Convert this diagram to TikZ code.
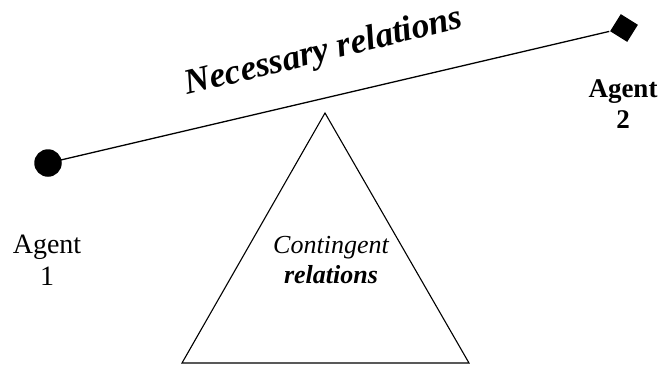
\documentclass[tikz,border=0pt]{standalone}
\usepackage{fontspec}
\setmainfont{Liberation Serif}
\usetikzlibrary{shapes.geometric}

\begin{document}
\begin{tikzpicture}[x=1pt,y=-1pt,line width=1.3pt,
  agentlabel/.style={align=center,inner sep=0pt,anchor=north},
  relationlabel/.style={inner sep=0pt,anchor=base}]
  \useasboundingbox (0,0) rectangle (658,367);
  %agents
  \node[circle,fill,inner sep=0pt,minimum size=27.5pt] (dot) at (48,163) {};
  \node[diamond,fill,inner sep=0pt,aspect=1,minimum size=29pt,rotate=13] (diam) at (624,28) {};
  \draw (dot.center) -- (diam.west);
  \node[agentlabel,font=\fontsize{28}{32}\selectfont] (agent1) at (47,234) {Agent\\1};
  \node[agentlabel,font=\fontsize{27}{31}\selectfont\bfseries] (agent2) at (623,79) {Agent\\2};
  %top
  \node[relationlabel,rotate=13.8,font=\fontsize{35.5}{40}\selectfont\bfseries\itshape] (necessary) at (326,61) {Necessary relations};
  %bottom
  \coordinate (apex) at (325,113);
  \coordinate (baseleft) at (182,363);
  \coordinate (baseright) at (469,363);
  \draw[line width=1.1pt,line join=miter] (apex) -- (baseleft) -- (baseright) -- cycle;
  \node[relationlabel,align=center,font=\fontsize{26}{30}\selectfont\itshape] (contingent) at (331,283) {Contingent\\\textbf{relations}};
\end{tikzpicture}
\end{document}
